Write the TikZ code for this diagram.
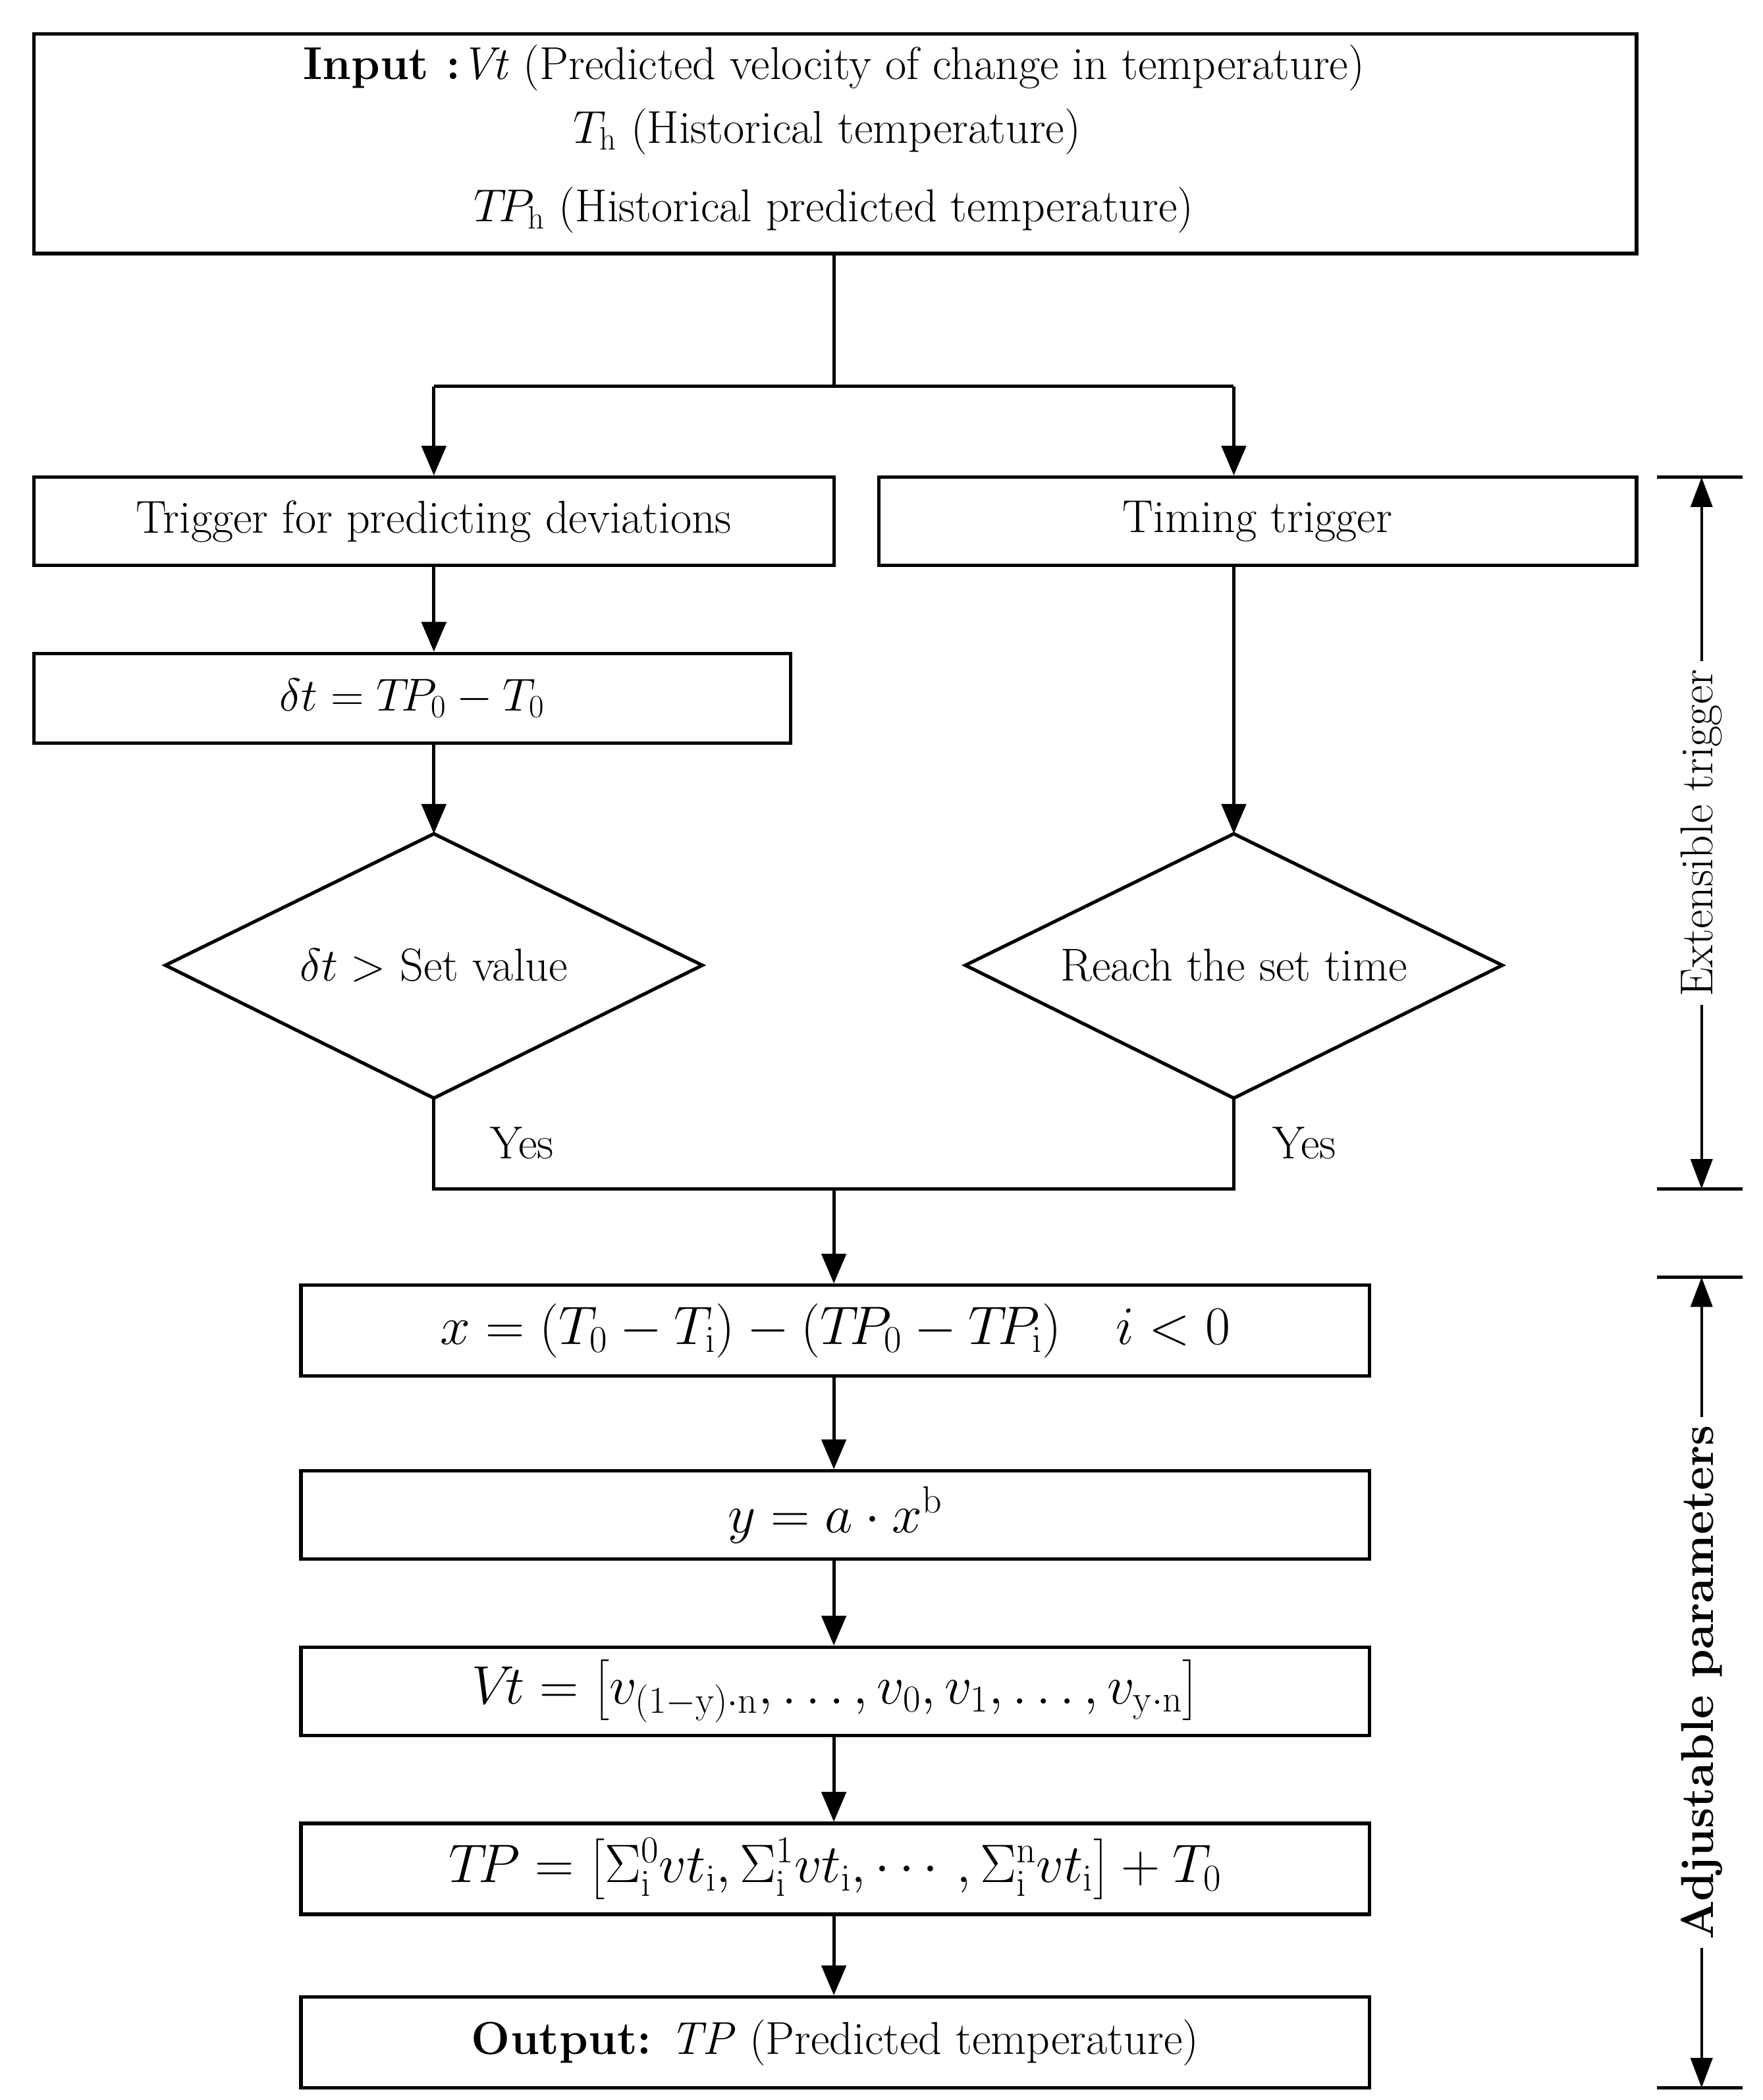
\RequirePackage{fix-cm}
\documentclass[tikz,border=0pt]{standalone}
\usepackage{amsmath}
\usetikzlibrary{arrows.meta}
\begin{document}
\begin{tikzpicture}[x=1pt,y=-1pt,
  every node/.style={font=\fontsize{34}{42}\selectfont},
  box/.style={draw,line width=2.5pt,inner sep=0pt},
  ln/.style={line width=2.5pt},
  ar/.style={line width=2.5pt,-{Triangle[length=22pt,width=18pt]}},
  dar/.style={line width=2pt,{Triangle[length=22pt,width=16pt]}-{Triangle[length=22pt,width=16pt]}}]
\useasboundingbox (0,0) rectangle (1300,1549);
\node[box,minimum width=1182pt,minimum height=162pt] (in) at (616,106) {};
\node at (615,50) {\textbf{Input :}\textit{Vt} (Predicted velocity of change in temperature)};
\node at (610,97) {$T_{\mathrm{h}}$ (Historical temperature)};
\node at (615,155) {$T\!P_{\mathrm{h}}$ (Historical predicted temperature)};
\coordinate (sp) at (615,285);
\coordinate (l) at (320,285);
\coordinate (r) at (910,285);
\node[box,minimum width=590pt,minimum height=65pt] (b1) at (320,384.5) {Trigger for predicting deviations};
\node[box,minimum width=559pt,minimum height=65pt] (b2) at (927.5,384.5) {Timing trigger};
\node[box,minimum width=558pt,minimum height=66pt] (d) at (304,515) {$\delta t = T\!P_0 - T_0$};
\node (d1) at (320,712) {$\delta t >$ Set value};
\node (d2) at (910,712) {Reach the set time};
\coordinate (d1t) at (320,615); \coordinate (d1b) at (320,810);
\coordinate (d2t) at (910,615); \coordinate (d2b) at (910,810);
\draw[ln,line join=miter] (d1t) -- (518,712) -- (d1b) -- (122,712) -- cycle;
\draw[ln,line join=miter] (d2t) -- (1108,712) -- (d2b) -- (712,712) -- cycle;
\coordinate (j1) at (320,877);
\coordinate (j2) at (910,877);
\coordinate (jm) at (615,877);
\node at (385,843) {Yes};
\node at (962,843) {Yes};
\node[box,minimum width=788pt,minimum height=67pt,font=\fontsize{40}{48}\selectfont] (x) at (616,981.5) {$x=(T_0-T_{\mathrm{i}})-(T\!P_0-T\!P_{\mathrm{i}})\quad i<0$};
\node[box,minimum width=788pt,minimum height=65pt,font=\fontsize{40}{48}\selectfont] (y) at (616,1117.5) {$y=a\cdot x^{\mathrm{b}}$};
\node[box,minimum width=788pt,minimum height=65pt,font=\fontsize{40}{48}\selectfont] (v) at (616,1247.5) {$V\!t=\left[v_{(1-\mathrm{y})\cdot\mathrm{n}},\ldots,v_0,v_1,\ldots,v_{\mathrm{y}\cdot\mathrm{n}}\right]$};
\node[box,minimum width=788pt,minimum height=67pt,font=\fontsize{40}{48}\selectfont] (tp) at (616,1378.5) {$T\!P=\left[\Sigma_{\mathrm{i}}^{0}vt_{\mathrm{i}},\Sigma_{\mathrm{i}}^{1}vt_{\mathrm{i}},\cdots,\Sigma_{\mathrm{i}}^{\mathrm{n}}vt_{\mathrm{i}}\right]+T_0$};
\node[box,minimum width=788pt,minimum height=67pt] (o) at (616,1506.5) {\textbf{Output:} \textit{TP} (Predicted temperature)};
\draw[ln] (in.south-|sp) -- (sp);
\draw[ln] (l) -- (r);
\draw[ar] (l) -- (b1.north-|l);
\draw[ar] (r) -- (b2.north-|r);
\draw[ar] (b1.south-|l) -- (d.north-|l);
\draw[ar] (d.south-|l) -- (d1t);
\draw[ar] (b2.south-|r) -- (d2t);
\draw[ln] (d1b) -- (j1) -- (j2) -- (d2b);
\draw[ar] (jm) -- (x.north-|jm);
\draw[ar] (x.south-|jm) -- (y.north-|jm);
\draw[ar] (y.south-|jm) -- (v.north-|jm);
\draw[ar] (v.south-|jm) -- (tp.north-|jm);
\draw[ar] (tp.south-|jm) -- (o.north-|jm);
\coordinate (e1) at (1255,352); \coordinate (e2) at (1255,877);
\coordinate (a1) at (1255,942); \coordinate (a2) at (1255,1540);
\draw[ln] (1222,352) -- (1285,352) (1222,877) -- (1285,877);
\draw[ln] (1222,942) -- (1285,942) (1222,1540) -- (1285,1540);
\draw[dar] (e1) -- node[fill=white,rotate=90,inner sep=6pt] (el) {Extensible trigger} (e2);
\draw[dar] (a1) -- node[fill=white,rotate=90,inner sep=6pt] (al) {\textbf{Adjustable parameters}} (a2);
\end{tikzpicture}
\end{document}
